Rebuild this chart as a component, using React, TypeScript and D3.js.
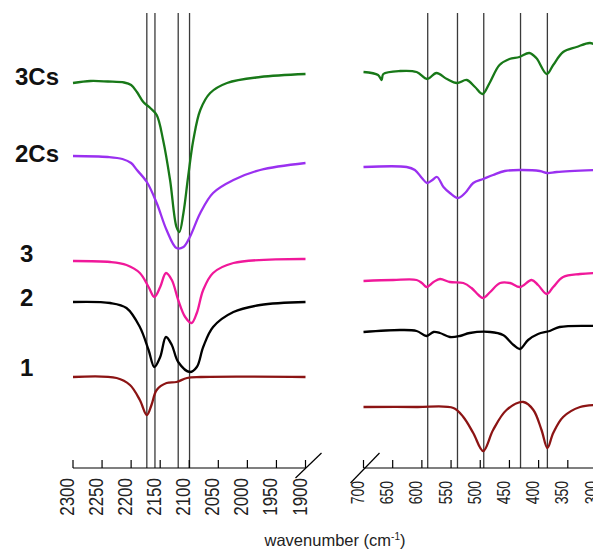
import React from 'react';
import * as d3 from 'd3';

const W = 593;
const H = 551;

// Axis ticks (wavenumber, cm-1)
const leftTicks = [2300, 2250, 2200, 2150, 2100, 2050, 2000, 1950, 1900];
const rightTicks = [700, 650, 600, 550, 500, 450, 400, 350, 300];

// Reference vertical lines (cm-1)
const leftMarkers = [2173, 2159, 2119, 2099.5];
const rightMarkers = [590, 539, 494, 431, 385];

const seriesNames = ['3Cs', '2Cs', '3', '2', '1'];
const seriesColors = ['#187818', '#9a30f0', '#f0189a', '#000000', '#8c1414'];

// Spectra: [wavenumber, intensity (a.u., offset)]
const left3Cs: [number, number][] = [
  [2300, 385], [2270, 387], [2240, 386.5], [2212, 385.5], [2200, 383], [2190, 376], [2179, 366], [2167, 360],
  [2156, 353], [2145, 328], [2133, 288], [2122, 241], [2117, 236], [2110, 255], [2102, 291],
  [2093, 328], [2081, 358], [2064, 375], [2035, 385], [1978, 391], [1900, 394],
];
const left2Cs: [number, number][] = [
  [2300, 312], [2240, 311], [2215, 309], [2200, 305], [2190, 298], [2173, 286], [2156, 265], [2139, 238],
  [2122, 220], [2110, 221], [2099, 231], [2081, 255], [2059, 275], [2024, 288], [1978, 298], [1900, 305],
];
const left3: [number, number][] = [
  [2300, 207], [2236, 206], [2208, 203], [2185, 195], [2170, 181], [2160, 171], [2150, 181],
  [2140, 195], [2130, 188], [2119, 168], [2107, 151], [2096, 145], [2087, 155], [2076, 178],
  [2059, 195], [2024, 205], [1900, 209],
];
const left2: [number, number][] = [
  [2300, 166], [2236, 165], [2208, 160], [2185, 141], [2170, 118], [2160, 101], [2150, 111],
  [2140, 131], [2130, 123], [2119, 106], [2099, 96], [2087, 101], [2076, 121], [2059, 141],
  [2024, 156], [1978, 163], [1900, 166],
];
const left1: [number, number][] = [
  [2300, 91], [2225, 90], [2202, 83], [2185, 68], [2173, 53], [2165, 63], [2156, 78],
  [2139, 85], [2122, 86], [2104, 90], [2080, 91], [1900, 91],
];

const right3Cs: [number, number][] = [
  [700, 396], [675, 393], [669, 388], [666, 394], [637, 397], [609, 396], [591, 389], [575, 395],
  [557, 389], [540, 385], [523, 388], [509, 381], [496, 374], [484, 385], [467, 403], [450, 409],
  [433, 411], [416, 415], [404, 410], [386, 394], [375, 403], [358, 416], [335, 421], [312, 425], [300, 422],
];
const right2Cs: [number, number][] = [
  [700, 301], [626, 301], [612, 298], [600, 290], [591, 285], [582, 288], [574, 291], [563, 281],
  [552, 275], [538, 270], [526, 275], [512, 285], [495, 289], [478, 293], [458, 297], [432, 298],
  [398, 297], [385, 295], [369, 296], [300, 298],
];
const right3: [number, number][] = [
  [700, 187], [649, 188], [609, 188], [600, 185], [592, 181], [580, 186], [569, 189], [552, 186],
  [529, 185], [515, 180], [503, 173], [495, 170], [483, 176], [466, 185], [449, 185], [432, 181],
  [412, 188], [401, 183], [386, 174], [375, 181], [358, 191], [329, 194], [300, 195],
];
const right2: [number, number][] = [
  [700, 136], [637, 138], [609, 137], [592, 132], [580, 136], [569, 135], [552, 131], [535, 132],
  [518, 135], [483, 136], [461, 133], [443, 123], [432, 119], [418, 128], [401, 134], [381, 137],
  [364, 141], [300, 142],
];
const right1: [number, number][] = [
  [700, 61], [609, 61], [546, 60], [529, 51], [512, 35], [495, 17], [478, 38], [455, 58],
  [426, 66], [409, 58], [395, 38], [385, 20], [375, 35], [358, 51], [329, 61], [300, 63],
];

const leftSeries = [left3Cs, left2Cs, left3, left2, left1];
const rightSeries = [right3Cs, right2Cs, right3, right2, right1];

// Layout
const AXIS_Y = 468;
const labelLayout = [
  { x: 15, y: 85 },
  { x: 15, y: 162 },
  { x: 20, y: 262 },
  { x: 20, y: 306 },
  { x: 20, y: 376 },
];
const FONT = '"Liberation Sans", Arial, Helvetica, sans-serif';

export default function App() {
  const xL = d3.scaleLinear().domain([2300, 1900]).range([73, 305.5]);
  const xR = d3.scaleLinear().domain([700, 300]).range([363.5, 597]);
  const y = d3.scaleLinear().domain([0, 455]).range([AXIS_Y, 13]);

  const curve = d3.curveCatmullRom.alpha(0.5);
  const lineL = d3.line<[number, number]>().x((d) => xL(d[0])).y((d) => y(d[1])).curve(curve);
  const lineR = d3.line<[number, number]>().x((d) => xR(d[0])).y((d) => y(d[1])).curve(curve);

  const xLEnd = xL(1900);
  const xRStart = xR(700);

  return (
    <svg width={W} height={H} style={{ position: 'absolute', left: 0, top: 0, background: '#fff' }} fontFamily={FONT}>
      <rect x={0} y={0} width={W} height={H} fill="#fff" />
      {/* marker lines */}
      {leftMarkers.map((m) => (
        <line key={'lm' + m} x1={xL(m)} x2={xL(m)} y1={y(455)} y2={AXIS_Y} stroke="#3a3a3a" strokeWidth={1.3} />
      ))}
      {rightMarkers.map((m) => (
        <line key={'rm' + m} x1={xR(m)} x2={xR(m)} y1={y(455)} y2={AXIS_Y} stroke="#3a3a3a" strokeWidth={1.3} />
      ))}
      {/* spectra */}
      {leftSeries.map((s, i) => (
        <path key={'ls' + i} d={lineL(s) || ''} fill="none" stroke={seriesColors[i]} strokeWidth={2.3} strokeLinejoin="round" />
      ))}
      {rightSeries.map((s, i) => (
        <path key={'rs' + i} d={lineR(s) || ''} fill="none" stroke={seriesColors[i]} strokeWidth={2.3} strokeLinejoin="round" />
      ))}
      {/* axes */}
      <line x1={xL(2300)} x2={xLEnd} y1={AXIS_Y} y2={AXIS_Y} stroke="#000" strokeWidth={1.2} />
      <line x1={xRStart} x2={W + 10} y1={AXIS_Y} y2={AXIS_Y} stroke="#000" strokeWidth={1.2} />
      {leftTicks.map((t) => (
        <g key={'lt' + t}>
          <line x1={xL(t)} x2={xL(t)} y1={AXIS_Y} y2={AXIS_Y - 8} stroke="#000" strokeWidth={1.2} />
          <text
            transform={`translate(${xL(t) + 1},${AXIS_Y + 10}) rotate(-90) scale(1,1.15)`}
            textAnchor="end"
            fontSize={17}
            fill="#222"
          >
            {t}
          </text>
        </g>
      ))}
      {rightTicks.map((t) => (
        <g key={'rt' + t}>
          <line x1={xR(t)} x2={xR(t)} y1={AXIS_Y} y2={AXIS_Y - 8} stroke="#000" strokeWidth={1.2} />
          <text
            transform={`translate(${xR(t) + 0.5},${AXIS_Y + 13}) rotate(-90) scale(1,1.25)`}
            textAnchor="end"
            fontSize={14}
            fill="#222"
          >
            {t}
          </text>
        </g>
      ))}
      {/* axis breaks */}
      <line x1={xLEnd - 10} y1={AXIS_Y + 10} x2={xLEnd + 16} y2={AXIS_Y - 15} stroke="#000" strokeWidth={1.2} />
      <line x1={xRStart - 13} y1={AXIS_Y + 15} x2={xRStart + 16} y2={AXIS_Y - 15} stroke="#000" strokeWidth={1.2} />
      {/* axis title */}
      <text x={335} y={546} textAnchor="middle" fontSize={16.5} fill="#222">
        wavenumber (cm
        <tspan dy={-6} fontSize={10}>-1</tspan>
        <tspan dy={6}>)</tspan>
      </text>
      {/* series labels */}
      {seriesNames.map((n, i) => (
        <text key={'lab' + n} x={labelLayout[i].x} y={labelLayout[i].y} fontSize={24} fontWeight="bold" fill="#111">
          {n}
        </text>
      ))}
    </svg>
  );
}
